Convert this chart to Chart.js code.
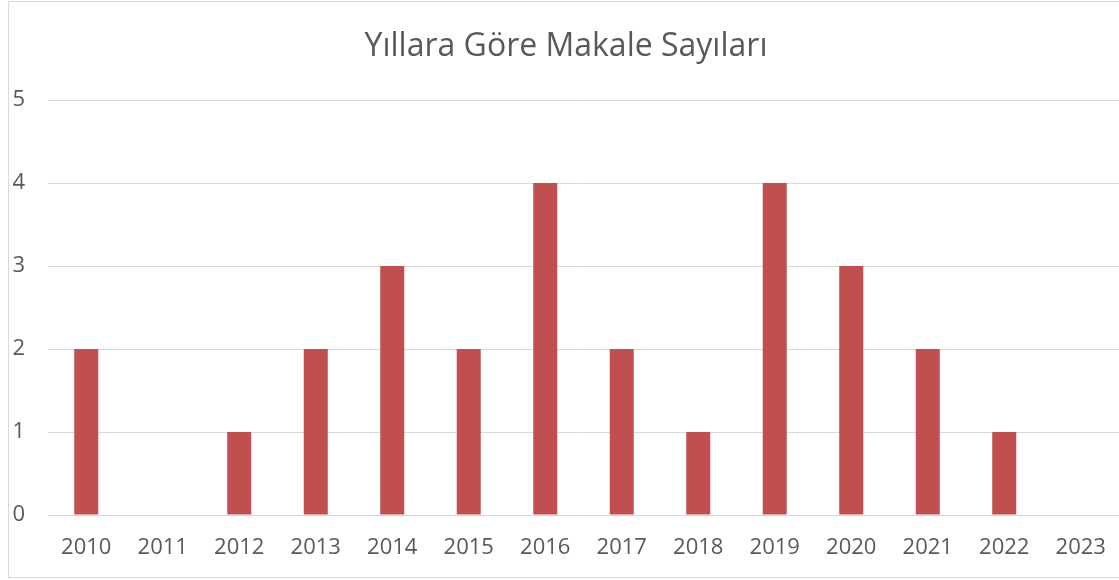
<!DOCTYPE html>
<html>
<head>
<meta charset="utf-8">
<script src="https://cdn.jsdelivr.net/npm/chart.js@4"></script>
<style>
  body { margin: 0; background: #fff; overflow: hidden; }
  #frame {
    position: absolute; left: 8px; top: 1px;
    width: 1111px; height: 575px;
    border: 1px solid #d9d9d9;
  }
</style>
</head>
<body>
<div id="frame"><canvas id="chart" width="1111" height="575"></canvas></div>
<script>
// Chart data
const years = ['2010', '2011', '2012', '2013', '2014', '2015', '2016',
               '2017', '2018', '2019', '2020', '2021', '2022', '2023'];
const articleCounts = [2, 0, 1, 2, 3, 2, 4, 2, 1, 4, 3, 2, 1, 0];
const yTicks = [0, 1, 2, 3, 4, 5];

const titleText = 'Yıllara Göre Makale Sayıları';
const textColor = '#595959';
const gridColor = '#d9d9d9';
const barColor = '#c0504d';

const ctx = document.getElementById('chart').getContext('2d');

new Chart(ctx, {
  type: 'bar',
  data: {
    labels: years,
    datasets: [{
      data: articleCounts,
      backgroundColor: barColor,
      borderWidth: 0,
      categoryPercentage: 1,
      barPercentage: 0.314
    }]
  },
  options: {
    responsive: false,
    animation: false,
    layout: {
      padding: { left: 4, right: 1, top: 0, bottom: 17 }
    },
    plugins: {
      legend: { display: false },
      tooltip: { enabled: false },
      title: {
        display: true,
        text: titleText,
        color: textColor,
        font: { family: 'Open Sans', size: 32, weight: 'normal', lineHeight: 1.2 },
        padding: { top: 26, bottom: 33.6 }
      }
    },
    scales: {
      x: {
        grid: { display: false, drawTicks: false },
        border: { display: false },
        ticks: {
          color: textColor,
          font: { family: 'Open Sans', size: 22 },
          padding: 20,
          maxRotation: 0,
          autoSkip: false
        },
        // keep the plot area full width, labels may sit near the edges
        afterFit: (scale) => {
          scale.height = 45;
          scale.paddingLeft = 0;
          scale.paddingRight = 0;
        }
      },
      y: {
        min: yTicks[0],
        max: yTicks[yTicks.length - 1],
        afterBuildTicks: (scale) => {
          scale.ticks = yTicks.map(v => ({ value: v }));
        },
        grid: { color: gridColor, lineWidth: 1, drawTicks: false },
        border: { display: false },
        ticks: {
          color: textColor,
          font: { family: 'Open Sans', size: 22 },
          padding: 23
        },
        afterFit: (scale) => {
          scale.width = 35;
        }
      }
    }
  }
});
</script>
</body>
</html>
